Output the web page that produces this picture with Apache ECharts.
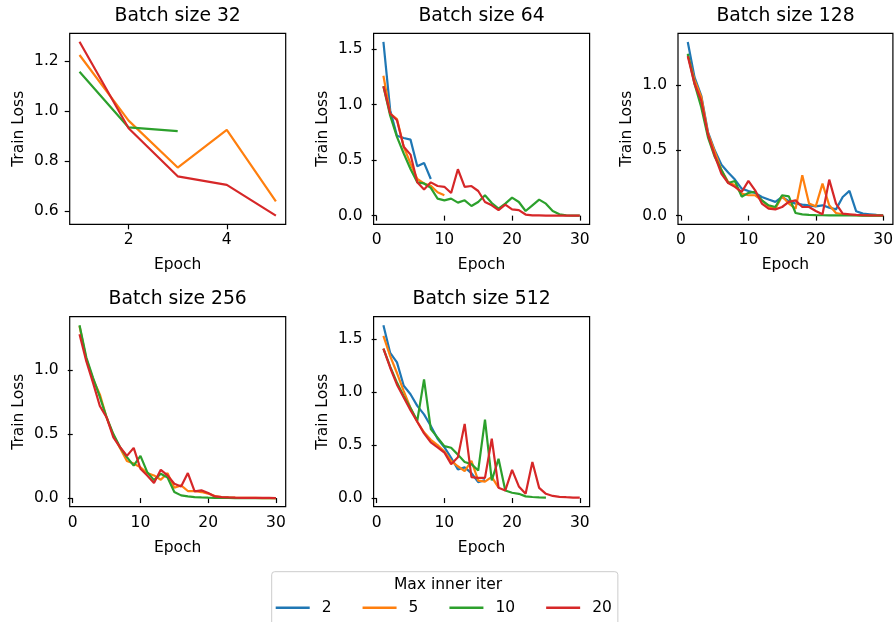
<!DOCTYPE html>
<html>
<head>
<meta charset="utf-8">
<script src="https://cdn.jsdelivr.net/npm/echarts@6/dist/echarts.min.js"></script>
<style>
html,body{margin:0;padding:0;background:#fff;}
#main{width:896px;height:622px;}
</style>
</head>
<body>
<div id="main"></div>
<script>
// legend names (max inner iter) and colours
var iterNames = ['2', '5', '10', '20'];
var colors = ['#1f77b4', '#ff7f0e', '#2ca02c', '#d62728'];

// train loss per epoch (epoch 1, 2, ...)
var bs32_2 = [];
var bs32_5 = [1.224, 0.962, 0.775, 0.925, 0.640];
var bs32_10 = [1.157, 0.935, 0.920];
var bs32_20 = [1.277, 0.932, 0.740, 0.706, 0.583];

var bs64_2 = [1.565, 0.95, 0.72, 0.70, 0.685, 0.445, 0.475, 0.33];
var bs64_5 = [1.26, 0.92, 0.87, 0.62, 0.47, 0.33, 0.29, 0.27, 0.21, 0.183];
var bs64_10 = [1.165, 0.90, 0.71, 0.56, 0.42, 0.30, 0.29, 0.25, 0.153, 0.138, 0.153, 0.117, 0.138, 0.087, 0.123,
  0.183, 0.114, 0.063, 0.108, 0.162, 0.123, 0.042, 0.093, 0.144, 0.108, 0.042, 0.012, 0.003, 0.001, 0.0];
var bs64_20 = [1.165, 0.92, 0.86, 0.62, 0.55, 0.30, 0.235, 0.30, 0.267, 0.26, 0.204, 0.418, 0.26, 0.267, 0.222,
  0.123, 0.093, 0.05, 0.10, 0.057, 0.05, 0.01, 0.003, 0.002, 0.001, 0.001, 0.001, 0.0, 0.0, 0.0];

var bs128_2 = [1.33, 1.06, 0.92, 0.64, 0.50, 0.39, 0.33, 0.276, 0.207, 0.189, 0.174, 0.143, 0.123, 0.105, 0.143,
  0.11, 0.092, 0.084, 0.079, 0.071, 0.079, 0.061, 0.048, 0.143, 0.189, 0.033, 0.015, 0.01, 0.005, 0.003];
var bs128_5 = [1.23, 1.04, 0.91, 0.63, 0.49, 0.35, 0.258, 0.232, 0.168, 0.156, 0.156, 0.117, 0.071, 0.053, 0.148,
  0.092, 0.053, 0.31, 0.092, 0.071, 0.245, 0.079, 0.02, 0.01, 0.005, 0.003, 0.002, 0.001, 0.001, 0.0];
var bs128_10 = [1.24, 1.01, 0.83, 0.60, 0.45, 0.35, 0.25, 0.265, 0.145, 0.174, 0.182, 0.117, 0.079, 0.066, 0.156,
  0.148, 0.02, 0.01, 0.006, 0.004, 0.003, 0.002, 0.002, 0.001, 0.001, 0.001, 0.0, 0.0, 0.0, 0.0];
var bs128_20 = [1.22, 1.01, 0.88, 0.62, 0.46, 0.32, 0.25, 0.22, 0.181, 0.266, 0.194, 0.092, 0.053, 0.048, 0.066,
  0.105, 0.117, 0.066, 0.066, 0.035, 0.01, 0.276, 0.092, 0.015, 0.01, 0.005, 0.003, 0.002, 0.001, 0.001];

var bs256_2 = [];
var bs256_5 = [1.345, 1.085, 0.93, 0.81, 0.63, 0.49, 0.39, 0.29, 0.27, 0.24, 0.195, 0.177, 0.143, 0.195, 0.08,
  0.099, 0.055, 0.055, 0.047, 0.035, 0.015, 0.008, 0.005, 0.003, 0.002, 0.001, 0.001, 0.0, 0.0, 0.0];
var bs256_10 = [1.35, 1.10, 0.94, 0.79, 0.63, 0.50, 0.397, 0.32, 0.254, 0.33, 0.203, 0.14, 0.19, 0.16, 0.047,
  0.021, 0.013, 0.008, 0.005, 0.003, 0.002, 0.001, 0.001, 0.0, 0.0, 0.0, 0.0, 0.0, 0.0, 0.0];
var bs256_20 = [1.28, 1.07, 0.90, 0.72, 0.63, 0.475, 0.397, 0.33, 0.392, 0.229, 0.177, 0.117, 0.221, 0.177, 0.112,
  0.091, 0.195, 0.052, 0.06, 0.039, 0.013, 0.008, 0.005, 0.003, 0.002, 0.002, 0.001, 0.001, 0.001, 0.0];

var bs512_2 = [1.63, 1.37, 1.28, 1.06, 0.98, 0.87, 0.79, 0.68, 0.56, 0.48, 0.38, 0.27, 0.29, 0.235, 0.15, 0.17];
var bs512_5 = [1.53, 1.34, 1.18, 1.01, 0.85, 0.72, 0.62, 0.55, 0.50, 0.44, 0.35, 0.30, 0.255, 0.35, 0.165,
  0.155, 0.20, 0.098];
var bs512_10 = [1.41, 1.24, 1.09, 0.96, 0.85, 0.73, 1.12, 0.65, 0.57, 0.49, 0.475, 0.41, 0.34, 0.32, 0.26,
  0.74, 0.166, 0.37, 0.072, 0.05, 0.04, 0.016, 0.01, 0.006, 0.005];
var bs512_20 = [1.41, 1.23, 1.07, 0.95, 0.83, 0.72, 0.61, 0.525, 0.478, 0.43, 0.32, 0.385, 0.70, 0.197, 0.19,
  0.19, 0.56, 0.098, 0.072, 0.266, 0.11, 0.04, 0.34, 0.096, 0.04, 0.02, 0.012, 0.008, 0.005, 0.004];

var titles = ['Batch size 32', 'Batch size 64', 'Batch size 128', 'Batch size 256', 'Batch size 512'];
var xTicks32 = [2, 4];
var xTicks = [0, 10, 20, 30];
var yTicks32 = [0.6, 0.8, 1.0, 1.2];
var yTicks = [0, 0.5, 1.0, 1.5];
var yTicksSmall = [0, 0.5, 1.0];

// panel layout
var panels = [
  {left: 69.7, top: 33.3, w: 216, h: 191, data: [bs32_2, bs32_5, bs32_10, bs32_20],
   xmin: 0.8, xmax: 5.2, xt: xTicks32, ymin: 0.5485, ymax: 1.3105, yt: yTicks32},
  {left: 373.6, top: 33.3, w: 216, h: 191, data: [bs64_2, bs64_5, bs64_10, bs64_20],
   xmin: -0.45, xmax: 31.45, xt: xTicks, ymin: -0.078, ymax: 1.643, yt: yTicks},
  {left: 678, top: 33.3, w: 215, h: 191, data: [bs128_2, bs128_5, bs128_10, bs128_20],
   xmin: -0.45, xmax: 31.45, xt: xTicks, ymin: -0.0665, ymax: 1.3965, yt: yTicksSmall},
  {left: 69.7, top: 316.7, w: 216, h: 190, data: [bs256_2, bs256_5, bs256_10, bs256_20],
   xmin: -0.45, xmax: 31.45, xt: xTicks, ymin: -0.0675, ymax: 1.4175, yt: yTicksSmall},
  {left: 373.6, top: 316.7, w: 216, h: 190, data: [bs512_2, bs512_5, bs512_10, bs512_20],
   xmin: -0.45, xmax: 31.45, xt: xTicks, ymin: -0.0815, ymax: 1.7115, yt: yTicks}
];

var font = 'DejaVu Sans';
var fs = 15.5;
var grids = [], xAxes = [], yAxes = [], series = [], titleList = [];

panels.forEach(function (p, k) {
  grids.push({left: p.left, top: p.top, width: p.w, height: p.h, show: true,
    borderColor: '#000', borderWidth: 1.2, backgroundColor: 'transparent'});
  titleList.push({text: titles[k], left: p.left + p.w / 2, top: p.top - 27, textAlign: 'center', padding: 0,
    textStyle: {fontFamily: font, fontSize: 18.8, fontWeight: 'normal', color: '#000'}});
  xAxes.push({type: 'value', gridIndex: k, min: p.xmin, max: p.xmax,
    name: 'Epoch', nameLocation: 'middle', nameGap: 33,
    nameTextStyle: {fontFamily: font, fontSize: fs, color: '#000'},
    axisLine: {show: false}, splitLine: {show: false},
    axisTick: {show: true, length: 5, customValues: p.xt, lineStyle: {color: '#000', width: 1.2}},
    axisLabel: {customValues: p.xt, margin: 8, fontFamily: font, fontSize: fs, color: '#000'}});
  yAxes.push({type: 'value', gridIndex: k, min: p.ymin, max: p.ymax,
    name: 'Train Loss', nameLocation: 'middle', nameGap: 43,
    nameTextStyle: {fontFamily: font, fontSize: fs, color: '#000'},
    axisLine: {show: false}, splitLine: {show: false},
    axisTick: {show: true, length: 5, customValues: p.yt, lineStyle: {color: '#000', width: 1.2}},
    axisLabel: {customValues: p.yt, margin: 11, fontFamily: font, fontSize: fs, color: '#000',
      formatter: function (v) { return v.toFixed(1); }}});
  p.data.forEach(function (arr, j) {
    var pts = [];
    for (var i = 0; i < arr.length; i++) pts.push([i + 1, arr[i]]);
    series.push({name: iterNames[j], type: 'line', xAxisIndex: k, yAxisIndex: k, data: pts,
      showSymbol: false, symbol: 'none', color: colors[j],
      lineStyle: {width: 2.2, color: colors[j]}, z: 2 + j});
  });
});

var mychart = echarts.init(document.getElementById('main'), null, {renderer: 'canvas'});
var option = {
  animation: false,
  backgroundColor: '#fff',
  title: titleList,
  grid: grids,
  xAxis: xAxes,
  yAxis: yAxes,
  legend: {
    data: iterNames,
    left: 271.7, top: 571.7,
    orient: 'horizontal',
    icon: 'rect', itemWidth: 34, itemHeight: 2.4, itemGap: 31,
    padding: [28, 6, 10, 4],
    borderColor: '#cccccc', borderWidth: 1, borderRadius: 3,
    textStyle: {fontFamily: font, fontSize: fs, color: '#000', padding: [0, 0, 0, 7]}
  },
  graphic: [{type: 'text', left: 447 - 53, top: 577,
    style: {text: 'Max inner iter', font: fs + 'px "DejaVu Sans"', fill: '#000'}}],
  series: series
};
mychart.setOption(option);
</script>
</body>
</html>
